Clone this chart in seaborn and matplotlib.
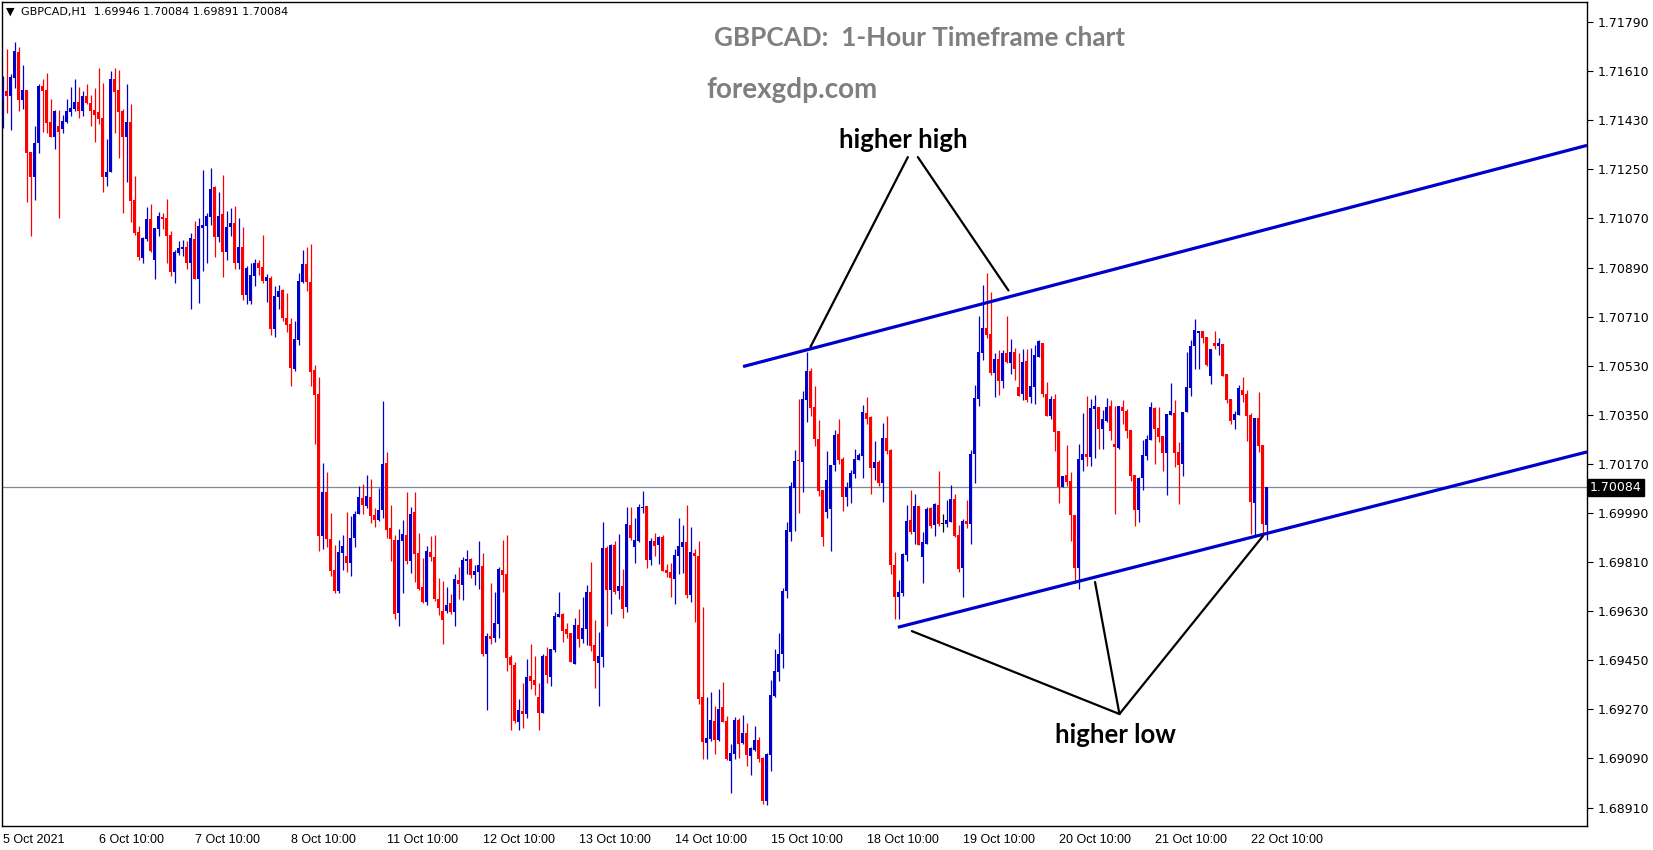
import matplotlib
matplotlib.use("Agg")
import matplotlib.pyplot as plt
import matplotlib.transforms as mtransforms
import numpy as np
import pandas as pd
import seaborn as sns

# GBPCAD H1 candles (one entry per hour bar)
opens = [
    1.71507, 1.71537, 1.71520, 1.71586, 1.71680, 1.71504, 1.71541, 1.71314, 1.71223, 1.71345,
    1.71556, 1.71541, 1.71424, 1.71370, 1.71409, 1.71399, 1.71425, 1.71462, 1.71473, 1.71497,
    1.71465, 1.71519, 1.71492, 1.71468, 1.71460, 1.71438, 1.71223, 1.71239, 1.71580, 1.71541,
    1.71464, 1.71370, 1.71424, 1.71138, 1.71022, 1.70926, 1.70995, 1.71068, 1.70918, 1.71033,
    1.71075, 1.71071, 1.71009, 1.70875, 1.70945, 1.70958, 1.70965, 1.70908, 1.70995, 1.70847,
    1.71036, 1.71042, 1.71077, 1.71187, 1.71003, 1.71086, 1.70948, 1.71038, 1.71055, 1.70905,
    1.70965, 1.70790, 1.70768, 1.70859, 1.70905, 1.70893, 1.70842, 1.70851, 1.70666, 1.70783,
    1.70807, 1.70706, 1.70683, 1.70519, 1.70624, 1.70837, 1.70903, 1.70837, 1.70514, 1.70426,
    1.69907, 1.70067, 1.69893, 1.69781, 1.69704, 1.69844, 1.69832, 1.69808, 1.69898, 1.69986,
    1.70045, 1.70017, 1.70048, 1.69982, 1.69964, 1.70001, 1.70173, 1.69936, 1.69892, 1.69624,
    1.69888, 1.69909, 1.69815, 1.69993, 1.69844, 1.69719, 1.69663, 1.69847, 1.69829, 1.69676,
    1.69631, 1.69631, 1.69659, 1.69627, 1.69745, 1.69726, 1.69814, 1.69822, 1.69763, 1.69775,
    1.69796, 1.69473, 1.69539, 1.69532, 1.69583, 1.69781, 1.69767, 1.69462, 1.69433, 1.69225,
    1.69264, 1.69253, 1.69393, 1.69378, 1.69316, 1.69257, 1.69466, 1.69390, 1.69488, 1.69609,
    1.69620, 1.69565, 1.69550, 1.69437, 1.69580, 1.69528, 1.69565, 1.69701, 1.69506, 1.69440,
    1.69462, 1.69862, 1.69708, 1.69873, 1.69704, 1.69723, 1.69646, 1.69946, 1.69866, 1.69888,
    1.70009, 1.70016, 1.69818, 1.69888, 1.69873, 1.69902, 1.69781, 1.69774, 1.69748, 1.69832,
    1.69865, 1.69884, 1.69689, 1.69843, 1.69832, 1.69315, 1.69148, 1.69161, 1.69227, 1.69158,
    1.69279, 1.69227, 1.69081, 1.69106, 1.69231, 1.69147, 1.69183, 1.69099, 1.69121, 1.69158,
    1.69092, 1.68934, 1.69103, 1.69319, 1.69407, 1.69473, 1.69704, 1.69920, 1.70083, 1.70184,
    1.70177, 1.70404, 1.70511, 1.70379, 1.70261, 1.70074, 1.69994, 1.70005, 1.70166, 1.70280,
    1.70188, 1.70049, 1.70082, 1.70133, 1.70184, 1.70199, 1.70356, 1.70342, 1.70156, 1.70177,
    1.70101, 1.70265, 1.70221, 1.69800, 1.69683, 1.69698, 1.69837, 1.69965, 1.69921, 1.70017,
    1.69830, 1.69877, 1.70009, 1.69946, 1.70019, 1.69951, 1.69951, 1.69958, 1.70042, 1.69910,
    1.69789, 1.69962, 1.69951, 1.70207, 1.70409, 1.70578, 1.70668, 1.70646, 1.70504, 1.70554,
    1.70475, 1.70576, 1.70541, 1.70580, 1.70453, 1.70427, 1.70547, 1.70416, 1.70453, 1.70563,
    1.70613, 1.70427, 1.70347, 1.70409, 1.70292, 1.70086, 1.70130, 1.70108, 1.69984, 1.69790,
    1.70184, 1.70206, 1.70197, 1.70371, 1.70379, 1.70298, 1.70329, 1.70382, 1.70243, 1.70228,
    1.70379, 1.70364, 1.70294, 1.70129, 1.70001, 1.70118, 1.70199, 1.70258, 1.70375, 1.70302,
    1.70272, 1.70210, 1.70349, 1.70357, 1.70214, 1.70170, 1.70360, 1.70448, 1.70602, 1.70650,
    1.70657, 1.70635, 1.70492, 1.70613, 1.70602, 1.70610, 1.70500, 1.70408, 1.70331, 1.70349,
    1.70441, 1.70426, 1.70349, 1.70027, 1.70338, 1.70239, 1.69946,
]
highs = [
    1.71592, 1.71691, 1.71600, 1.71716, 1.71697, 1.71633, 1.71541, 1.71314, 1.71409, 1.71563,
    1.71580, 1.71605, 1.71508, 1.71468, 1.71468, 1.71449, 1.71508, 1.71551, 1.71580, 1.71551,
    1.71537, 1.71563, 1.71523, 1.71550, 1.71623, 1.71568, 1.71361, 1.71611, 1.71620, 1.71614,
    1.71471, 1.71563, 1.71490, 1.71226, 1.71042, 1.71003, 1.71113, 1.71123, 1.71036, 1.71095,
    1.71089, 1.71141, 1.71024, 1.70954, 1.70989, 1.70991, 1.70989, 1.71018, 1.71061, 1.71073,
    1.71248, 1.71091, 1.71256, 1.71190, 1.71168, 1.71229, 1.71097, 1.71108, 1.71115, 1.71071,
    1.71038, 1.70897, 1.70906, 1.70921, 1.70917, 1.71008, 1.70865, 1.70859, 1.70823, 1.70826,
    1.70811, 1.70796, 1.70705, 1.70694, 1.70869, 1.70954, 1.70966, 1.70976, 1.70532, 1.70490,
    1.70174, 1.70141, 1.69991, 1.69872, 1.69891, 1.69909, 1.69993, 1.69979, 1.69997, 1.70090,
    1.70098, 1.70129, 1.70114, 1.70007, 1.70081, 1.70402, 1.70215, 1.70019, 1.69909, 1.69932,
    1.69964, 1.70068, 1.70013, 1.70068, 1.69915, 1.69825, 1.69869, 1.69907, 1.69910, 1.69752,
    1.69742, 1.69719, 1.69693, 1.69767, 1.69792, 1.69830, 1.69855, 1.69825, 1.69800, 1.69888,
    1.69844, 1.69550, 1.69734, 1.69702, 1.69792, 1.69891, 1.69910, 1.69470, 1.69444, 1.69308,
    1.69367, 1.69455, 1.69510, 1.69466, 1.69366, 1.69473, 1.69499, 1.69492, 1.69627, 1.69701,
    1.69624, 1.69587, 1.69550, 1.69605, 1.69638, 1.69682, 1.69726, 1.69811, 1.69598, 1.69554,
    1.69957, 1.69869, 1.69877, 1.69888, 1.69913, 1.69785, 1.70012, 1.70012, 1.69972, 1.70023,
    1.70071, 1.70016, 1.69899, 1.69917, 1.69906, 1.69909, 1.69803, 1.69807, 1.69858, 1.69972,
    1.69946, 1.70019, 1.69939, 1.69858, 1.69887, 1.69645, 1.69315, 1.69334, 1.69282, 1.69345,
    1.69370, 1.69246, 1.69143, 1.69242, 1.69238, 1.69249, 1.69220, 1.69132, 1.69209, 1.69169,
    1.69095, 1.69110, 1.69378, 1.69491, 1.69550, 1.69715, 1.69957, 1.70104, 1.70221, 1.70408,
    1.70437, 1.70580, 1.70522, 1.70456, 1.70331, 1.70074, 1.70217, 1.70166, 1.70294, 1.70335,
    1.70195, 1.70104, 1.70148, 1.70225, 1.70210, 1.70386, 1.70415, 1.70345, 1.70255, 1.70184,
    1.70320, 1.70345, 1.70224, 1.69848, 1.69744, 1.69844, 1.70020, 1.70075, 1.70061, 1.70017,
    1.69921, 1.70013, 1.70013, 1.70028, 1.70145, 1.69987, 1.70039, 1.70094, 1.70061, 1.69947,
    1.69969, 1.70039, 1.70222, 1.70459, 1.70713, 1.70827, 1.70871, 1.70801, 1.70578, 1.70589,
    1.70589, 1.70713, 1.70628, 1.70595, 1.70576, 1.70590, 1.70591, 1.70595, 1.70606, 1.70623,
    1.70613, 1.70471, 1.70420, 1.70427, 1.70292, 1.70127, 1.70240, 1.70141, 1.69984, 1.70243,
    1.70357, 1.70419, 1.70408, 1.70423, 1.70379, 1.70368, 1.70412, 1.70404, 1.70382, 1.70382,
    1.70404, 1.70371, 1.70294, 1.70129, 1.70122, 1.70258, 1.70276, 1.70397, 1.70379, 1.70379,
    1.70272, 1.70353, 1.70467, 1.70404, 1.70250, 1.70360, 1.70580, 1.70624, 1.70701, 1.70657,
    1.70657, 1.70635, 1.70591, 1.70657, 1.70632, 1.70610, 1.70500, 1.70408, 1.70364, 1.70459,
    1.70489, 1.70441, 1.70357, 1.70338, 1.70434, 1.70239, 1.70084,
]
lows = [
    1.71403, 1.71458, 1.71394, 1.71547, 1.71465, 1.71470, 1.71132, 1.71007, 1.71138, 1.71311,
    1.71388, 1.71382, 1.71370, 1.71326, 1.71073, 1.71385, 1.71421, 1.71446, 1.71465, 1.71440,
    1.71446, 1.71490, 1.71409, 1.71352, 1.71416, 1.71168, 1.71190, 1.71239, 1.71385, 1.71293,
    1.71091, 1.71205, 1.71058, 1.71009, 1.70918, 1.70908, 1.70989, 1.70948, 1.70848, 1.71006,
    1.71030, 1.70906, 1.70860, 1.70835, 1.70936, 1.70934, 1.70886, 1.70737, 1.70847, 1.70761,
    1.70879, 1.70906, 1.71046, 1.70930, 1.70983, 1.70856, 1.70917, 1.71005, 1.70886, 1.70883,
    1.70772, 1.70757, 1.70757, 1.70823, 1.70862, 1.70834, 1.70765, 1.70644, 1.70636, 1.70738,
    1.70694, 1.70655, 1.70457, 1.70512, 1.70605, 1.70833, 1.70805, 1.70457, 1.70244, 1.69852,
    1.69859, 1.69866, 1.69760, 1.69698, 1.69698, 1.69781, 1.69775, 1.69760, 1.69866, 1.69986,
    1.69988, 1.70007, 1.69955, 1.69940, 1.69962, 1.69973, 1.69897, 1.69815, 1.69601, 1.69577,
    1.69698, 1.69803, 1.69769, 1.69738, 1.69706, 1.69659, 1.69653, 1.69814, 1.69669, 1.69616,
    1.69508, 1.69624, 1.69620, 1.69576, 1.69674, 1.69671, 1.69767, 1.69752, 1.69725, 1.69712,
    1.69464, 1.69268, 1.69510, 1.69517, 1.69532, 1.69701, 1.69411, 1.69195, 1.69219, 1.69195,
    1.69202, 1.69237, 1.69344, 1.69323, 1.69195, 1.69257, 1.69366, 1.69354, 1.69481, 1.69609,
    1.69517, 1.69532, 1.69444, 1.69437, 1.69499, 1.69515, 1.69506, 1.69484, 1.69349, 1.69283,
    1.69426, 1.69576, 1.69620, 1.69693, 1.69675, 1.69605, 1.69627, 1.69891, 1.69807, 1.69884,
    1.69990, 1.69789, 1.69800, 1.69833, 1.69803, 1.69777, 1.69755, 1.69682, 1.69656, 1.69766,
    1.69770, 1.69678, 1.69664, 1.69590, 1.69290, 1.69088, 1.69088, 1.69154, 1.69106, 1.69154,
    1.69224, 1.69084, 1.68963, 1.69088, 1.69092, 1.69143, 1.69062, 1.69029, 1.69117, 1.69077,
    1.68923, 1.68919, 1.69044, 1.69315, 1.69374, 1.69422, 1.69678, 1.69887, 1.69924, 1.69990,
    1.70067, 1.70324, 1.70346, 1.70236, 1.70052, 1.69869, 1.69972, 1.69851, 1.70144, 1.70170,
    1.69997, 1.70016, 1.70027, 1.70118, 1.70184, 1.70118, 1.70318, 1.70061, 1.70112, 1.70090,
    1.70031, 1.70207, 1.69767, 1.69600, 1.69600, 1.69687, 1.69815, 1.69914, 1.69877, 1.69874,
    1.69734, 1.69877, 1.69936, 1.69907, 1.69942, 1.69921, 1.69940, 1.69958, 1.69903, 1.69775,
    1.69683, 1.69936, 1.69877, 1.70101, 1.70383, 1.70552, 1.70633, 1.70497, 1.70416, 1.70424,
    1.70449, 1.70541, 1.70501, 1.70479, 1.70420, 1.70405, 1.70398, 1.70394, 1.70391, 1.70563,
    1.70416, 1.70347, 1.70336, 1.70218, 1.70028, 1.70086, 1.70090, 1.69888, 1.69732, 1.69713,
    1.70144, 1.70162, 1.70162, 1.70193, 1.70225, 1.70225, 1.70325, 1.70258, 1.69988, 1.70225,
    1.70316, 1.70265, 1.70107, 1.69942, 1.69957, 1.70074, 1.70184, 1.70258, 1.70170, 1.70250,
    1.70144, 1.70056, 1.70349, 1.70159, 1.70023, 1.70126, 1.70360, 1.70419, 1.70518, 1.70518,
    1.70613, 1.70529, 1.70463, 1.70591, 1.70569, 1.70492, 1.70393, 1.70316, 1.70298, 1.70349,
    1.70397, 1.70254, 1.69913, 1.69909, 1.70214, 1.69917, 1.69891,
]
closes = [
    1.71537, 1.71520, 1.71587, 1.71684, 1.71504, 1.71541, 1.71311, 1.71223, 1.71345, 1.71556,
    1.71539, 1.71419, 1.71370, 1.71465, 1.71388, 1.71429, 1.71464, 1.71474, 1.71497, 1.71465,
    1.71519, 1.71492, 1.71465, 1.71451, 1.71436, 1.71223, 1.71239, 1.71580, 1.71535, 1.71462,
    1.71370, 1.71424, 1.71135, 1.71018, 1.70930, 1.70997, 1.71068, 1.70951, 1.71036, 1.71079,
    1.71068, 1.71007, 1.70875, 1.70948, 1.70961, 1.70965, 1.70908, 1.70998, 1.70847, 1.71042,
    1.71046, 1.71080, 1.71178, 1.71003, 1.71079, 1.70948, 1.71038, 1.71055, 1.70905, 1.70965,
    1.70790, 1.70889, 1.70861, 1.70905, 1.70889, 1.70842, 1.70854, 1.70666, 1.70785, 1.70804,
    1.70706, 1.70680, 1.70523, 1.70628, 1.70840, 1.70903, 1.70837, 1.70508, 1.70424, 1.69907,
    1.70067, 1.69893, 1.69778, 1.69704, 1.69848, 1.69869, 1.69808, 1.69898, 1.69986, 1.70048,
    1.70020, 1.70052, 1.69980, 1.69964, 1.70001, 1.70171, 1.69929, 1.69896, 1.69621, 1.69892,
    1.69913, 1.69815, 1.69987, 1.69841, 1.69712, 1.69663, 1.69851, 1.69829, 1.69674, 1.69640,
    1.69596, 1.69652, 1.69626, 1.69748, 1.69731, 1.69818, 1.69822, 1.69763, 1.69778, 1.69800,
    1.69473, 1.69539, 1.69528, 1.69587, 1.69785, 1.69763, 1.69459, 1.69433, 1.69228, 1.69268,
    1.69253, 1.69389, 1.69374, 1.69360, 1.69257, 1.69466, 1.69396, 1.69492, 1.69613, 1.69620,
    1.69558, 1.69547, 1.69444, 1.69580, 1.69528, 1.69569, 1.69701, 1.69503, 1.69448, 1.69466,
    1.69862, 1.69708, 1.69873, 1.69701, 1.69723, 1.69638, 1.69950, 1.69899, 1.69891, 1.70012,
    1.70012, 1.69818, 1.69888, 1.69869, 1.69902, 1.69777, 1.69769, 1.69752, 1.69836, 1.69869,
    1.69884, 1.69689, 1.69847, 1.69832, 1.69308, 1.69150, 1.69165, 1.69231, 1.69158, 1.69271,
    1.69224, 1.69088, 1.69110, 1.69231, 1.69143, 1.69183, 1.69103, 1.69128, 1.69158, 1.69088,
    1.68934, 1.69106, 1.69323, 1.69411, 1.69473, 1.69704, 1.69928, 1.70089, 1.70181, 1.70181,
    1.70408, 1.70511, 1.70375, 1.70261, 1.70071, 1.69902, 1.70111, 1.70166, 1.70276, 1.70184,
    1.70049, 1.70085, 1.70137, 1.70188, 1.70203, 1.70360, 1.70334, 1.70156, 1.70177, 1.70101,
    1.70265, 1.70217, 1.69800, 1.69683, 1.69701, 1.69841, 1.69962, 1.69921, 1.70017, 1.69874,
    1.69883, 1.70006, 1.69942, 1.70023, 1.69951, 1.69951, 1.69964, 1.70042, 1.69907, 1.69786,
    1.69962, 1.69951, 1.70207, 1.70411, 1.70580, 1.70668, 1.70642, 1.70504, 1.70554, 1.70475,
    1.70576, 1.70545, 1.70580, 1.70519, 1.70420, 1.70543, 1.70405, 1.70455, 1.70569, 1.70619,
    1.70427, 1.70347, 1.70409, 1.70288, 1.70086, 1.70127, 1.70105, 1.69984, 1.69789, 1.70188,
    1.70206, 1.70197, 1.70375, 1.70382, 1.70298, 1.70335, 1.70379, 1.70291, 1.70232, 1.70382,
    1.70364, 1.70291, 1.70126, 1.70001, 1.70118, 1.70203, 1.70261, 1.70379, 1.70298, 1.70269,
    1.70210, 1.70353, 1.70364, 1.70210, 1.70166, 1.70360, 1.70452, 1.70602, 1.70661, 1.70657,
    1.70632, 1.70533, 1.70591, 1.70602, 1.70613, 1.70492, 1.70404, 1.70327, 1.70353, 1.70448,
    1.70423, 1.70346, 1.70030, 1.70338, 1.70236, 1.69950, 1.70084,
]

date_ticks = [0, 24, 48, 72, 96, 120, 144, 168, 192, 216, 240, 264, 288, 312]
date_labels = ["5 Oct 2021", "6 Oct 10:00", "7 Oct 10:00", "8 Oct 10:00", "11 Oct 10:00",
               "12 Oct 10:00", "13 Oct 10:00", "14 Oct 10:00", "15 Oct 10:00", "18 Oct 10:00",
               "19 Oct 10:00", "20 Oct 10:00", "21 Oct 10:00", "22 Oct 10:00"]
price_ticks = [1.68910, 1.69090, 1.69270, 1.69450, 1.69630, 1.69810, 1.69990, 1.70170,
               1.70350, 1.70530, 1.70710, 1.70890, 1.71070, 1.71250, 1.71430, 1.71610, 1.71790]
last_price = 1.70084

# channel lines and annotation pointers (bar index, price)
upper_channel_x = [185.1, 396.1]
upper_channel_y = [1.70527, 1.71338]
lower_channel_x = [223.8, 396.1]
lower_channel_y = [1.69571, 1.70214]
hh_from = [(226.3, 1.71295), (228.8, 1.71295)]
hh_to = [(201.95, 1.70599), (251.45, 1.70806)]
hl_from = (279.2, 1.69253)
hl_to = [(227.3, 1.69557), (273.1, 1.69737), (315.1, 1.69906)]

df = pd.DataFrame({"open": opens, "high": highs, "low": lows, "close": closes})
df["bar"] = np.arange(len(df))

sns.set_style("white")
plt.rcParams["font.family"] = ["DejaVu Sans"]

W, H = 1653, 850
fig = plt.figure(figsize=(W / 100, H / 100), dpi=100)
ax = fig.add_axes([2 / W, 24 / H, 1585 / W, 824 / H])

BLUE = "#0000CD"
RED = "#FF0000"
colors = np.where(df["close"] > df["open"], BLUE, np.where(df["close"] < df["open"], RED, "black"))

ax.vlines(df["bar"], df["low"], df["high"], colors=colors, linewidth=0.9, zorder=2)
body_low = np.minimum(df["open"], df["close"])
body_h = np.maximum((df["close"] - df["open"]).abs(), 0.00003)
ax.bar(df["bar"], body_h, bottom=body_low, width=0.75, color=colors, linewidth=0, zorder=3)

# last price line
ax.axhline(last_price, color="#7b8a99", linewidth=0.9, zorder=1)

# channel
ax.plot(upper_channel_x, upper_channel_y, color=BLUE, linewidth=2.3, solid_capstyle="butt", zorder=4)
ax.plot(lower_channel_x, lower_channel_y, color=BLUE, linewidth=2.3, solid_capstyle="butt", zorder=4)

# pointers
for (x0, y0), (x1, y1) in zip(hh_from, hh_to):
    ax.plot([x0, x1], [y0, y1], color="black", linewidth=1.6, zorder=5)
for (x1, y1) in hl_to:
    ax.plot([hl_from[0], x1], [hl_from[1], y1], color="black", linewidth=1.6, zorder=5)

ax.text(225.1, 1.71358, "higher high", ha="center", va="center", fontsize=18.5,
        fontweight="bold", family=["Lato", "DejaVu Sans"], color="black")
ax.text(278.3, 1.69176, "higher low", ha="center", va="center", fontsize=18.5,
        fontweight="bold", family=["Lato", "DejaVu Sans"], color="black")

ax.set_xlim(-0.18, 396.1)
ax.set_ylim(1.688424, 1.718637)

ax.yaxis.tick_right()
ax.set_yticks(price_ticks)
ax.set_yticklabels([f"{p:.5f}" for p in price_ticks])
ax.tick_params(axis="y", direction="out", length=4, width=0.8, pad=4, labelsize=9, colors="black")
ax.set_xticks(date_ticks)
ax.set_xticklabels(date_labels, family=["Liberation Sans", "DejaVu Sans"])
ax.tick_params(axis="x", direction="out", length=4, width=0.8, pad=2, labelsize=9, colors="black")
for lab in ax.get_xticklabels():
    lab.set_ha("left")

for sp in ax.spines.values():
    sp.set_color("black")
    sp.set_linewidth(1.0)
    sp.set_visible(True)

# price tag on the right axis
trans = mtransforms.blended_transform_factory(ax.transAxes, ax.transData)
ax.text(1.002, last_price, "1.70084", transform=trans, ha="left", va="center", fontsize=9,
        color="white", bbox=dict(boxstyle="square,pad=0.15", facecolor="black", edgecolor="black"),
        zorder=10, clip_on=False)

# header and titles
fig.text(6 / W, 1 - 12 / H, "\u25bc", fontsize=8, va="center", ha="left", color="black")
fig.text(21 / W, 1 - 12.5 / H, "GBPCAD,H1  1.69946 1.70084 1.69891 1.70084", fontsize=8,
         va="center", ha="left", color="black")
fig.text(919 / W, 1 - 38 / H, "GBPCAD:  1-Hour Timeframe chart", fontsize=18.8, fontweight="bold",
         color="#7f7f7f", ha="center", va="center", family=["Lato", "DejaVu Sans"])
fig.text(792 / W, 1 - 90 / H, "forexgdp.com", fontsize=20, fontweight="bold",
         color="#7f7f7f", ha="center", va="center", family=["Lato", "DejaVu Sans"])

fig.savefig("out.png", dpi=100)
